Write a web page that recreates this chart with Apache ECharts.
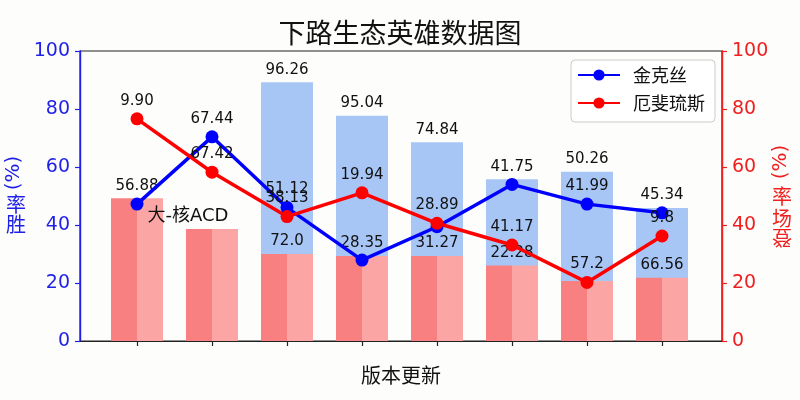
<!DOCTYPE html>
<html>
<head>
<meta charset="utf-8">
<script src="https://cdn.jsdelivr.net/npm/echarts@6/dist/echarts.min.js"></script>
<style>html,body{margin:0;padding:0;background:#fdfdfb;}#c{width:800px;height:400px;}</style>
</head>
<body>
<div id="c"></div>
<script>
// ---- data ----
const categories = ['1', '2', '3', '4', '5', '6', '7', '8'];      // version updates (no tick labels shown)
const blueBar   = [null, null, 89.2, 77.7, 68.5, 55.8, 58.4, 45.9]; // win-rate bars (hidden behind red for 1,2)
const redBar    = [49.2, 38.6, 30.0, 29.3, 29.3, 26.0, 20.7, 21.8]; // pick-rate bars
const jinx      = [47.2, 70.4, 46.0, 27.9, 39.4, 54.0, 47.2, 44.2]; // 金克丝
const aphelios  = [76.6, 58.2, 42.9, 51.1, 40.6, 33.1, 20.2, 36.2]; // 厄斐琉斯
const blueBarLabels = ['', '', '96.26', '95.04', '74.84', '41.75', '50.26', '45.34'];
const redBarLabels  = ['56.88', '', '72.0', '28.35', '31.27', '22.28', '', '66.56'];
const jinxLabels    = ['', '67.44', '51.12', '', '', '', '41.99', ''];
const aphLabels     = ['9.90', '67.42', '38.13', '19.94', '28.89', '41.17', '57.2', '9.8'];
const annotation    = '大-核ACD';

const FONT = 'DejaVu Sans, Noto Sans CJK SC, sans-serif';
const CJK = 'Noto Sans CJK SC, DejaVu Sans, sans-serif';
const pts = arr => arr.map((v, i) => [i, v]);
const lbl = (arr) => ({
  show: true, position: 'top', color: '#111', fontSize: 15, fontFamily: FONT,
  formatter: p => arr[p.dataIndex]
});

const chart = echarts.init(document.getElementById('c'));
const xBase = {
  type: 'value', min: -0.76, max: 7.8,
  splitLine: { show: false }
};
chart.setOption({
  backgroundColor: '#fdfdfb',
  animation: false,
  title: {
    text: '下路生态英雄数据图', left: 'center', top: 14,
    textStyle: { fontFamily: CJK, fontSize: 27, fontWeight: 'normal', color: '#111' }
  },
  legend: {
    data: ['金克丝', '厄斐琉斯'], orient: 'vertical', left: 571, top: 60,
    padding: [5, 10, 9, 6], itemGap: 8, itemWidth: 42, itemHeight: 14,
    backgroundColor: '#ffffff', borderColor: '#cccccc', borderWidth: 1, borderRadius: 4,
    textStyle: { fontFamily: CJK, fontSize: 18, color: '#111', lineHeight: 20, padding: [0, 0, 0, 8] }
  },
  grid: {
    left: 80, right: 78, top: 51, bottom: 59,
    show: true, borderColor: '#222', borderWidth: 1.2, backgroundColor: 'transparent'
  },
  xAxis: [
    Object.assign({}, xBase, {
      name: '版本更新', nameLocation: 'middle', nameGap: 24,
      nameTextStyle: { fontFamily: CJK, fontSize: 20, color: '#111' },
      axisLine: { show: true, onZero: false, lineStyle: { color: '#222', width: 1.2 } },
      axisTick: { show: true, length: 5, lineStyle: { color: '#222', width: 1.2 }, customValues: categories.map((c, i) => i) },
      axisLabel: { show: false }
    }),
    Object.assign({}, xBase, { show: false })
  ],
  yAxis: [
    {
      type: 'value', min: 0, max: 100, interval: 20, position: 'left',
      splitLine: { show: false },
      axisLine: { show: true, onZero: false, lineStyle: { color: '#1f1fe8', width: 1.4 } },
      axisTick: { show: true, length: 5, lineStyle: { color: '#1f1fe8', width: 1.2 } },
      axisLabel: { color: '#1f1fe8', fontSize: 19, fontFamily: FONT, margin: 10 }
    },
    {
      type: 'value', min: 0, max: 100, interval: 20, position: 'right',
      splitLine: { show: false },
      axisLine: { show: true, onZero: false, lineStyle: { color: '#f01f1f', width: 1.4 } },
      axisTick: { show: true, length: 5, lineStyle: { color: '#f01f1f', width: 1.2 } },
      axisLabel: { color: '#f01f1f', fontSize: 19, fontFamily: FONT, margin: 10 }
    }
  ],
  series: [
    {
      name: '胜率柱', type: 'bar', xAxisIndex: 1, yAxisIndex: 0, barWidth: 52,
      data: pts(blueBar), itemStyle: { color: '#a7c6f6' },
      label: Object.assign(lbl(blueBarLabels), { distance: 5 })
    },
    {
      name: '登场率A', type: 'bar', xAxisIndex: 0, yAxisIndex: 0, barWidth: 26, barGap: '0%',
      data: pts(redBar), itemStyle: { color: '#f88080' },
      label: Object.assign(lbl(redBarLabels), { distance: 5, offset: [13, 0] })
    },
    {
      name: '登场率B', type: 'bar', xAxisIndex: 0, yAxisIndex: 0, barWidth: 26, barGap: '0%',
      data: pts(redBar), itemStyle: { color: '#fca5a5' }
    },
    {
      name: '金克丝', type: 'line', xAxisIndex: 0, yAxisIndex: 0, data: pts(jinx),
      symbol: 'circle', symbolSize: 13,
      lineStyle: { color: '#0000ff', width: 3.5 }, itemStyle: { color: '#0000ff' },
      label: Object.assign(lbl(jinxLabels), { distance: 4 })
    },
    {
      name: '厄斐琉斯', type: 'line', xAxisIndex: 0, yAxisIndex: 1, data: pts(aphelios),
      symbol: 'circle', symbolSize: 13,
      lineStyle: { color: '#ff0000', width: 3.5 }, itemStyle: { color: '#ff0000' },
      label: Object.assign(lbl(aphLabels), { distance: 4 })
    }
  ]
});

// annotation near the 2nd group + axis names built of upright/rotated pieces
const ap = chart.convertToPixel({ xAxisIndex: 0, yAxisIndex: 0 }, [1, redBar[1]]);
chart.setOption({
  graphic: [
    { type: 'text', x: ap[0] - 24, y: ap[1] - 13, z: 50,
      style: { text: annotation, fontSize: 18, fontFamily: FONT, fill: '#111', align: 'center', verticalAlign: 'middle' } },
    { type: 'text', x: 14, y: 173, rotation: Math.PI / 2,
      style: { text: '(%)', fontSize: 20, fontFamily: FONT, fill: '#1f1fe8', align: 'center', verticalAlign: 'middle' } },
    { type: 'text', x: 16, y: 204,
      style: { text: '率', fontSize: 20, fontFamily: CJK, fill: '#1f1fe8', align: 'center', verticalAlign: 'middle' } },
    { type: 'text', x: 16, y: 224,
      style: { text: '胜', fontSize: 20, fontFamily: CJK, fill: '#1f1fe8', align: 'center', verticalAlign: 'middle' } },
    { type: 'text', x: 781, y: 162, rotation: Math.PI / 2,
      style: { text: '(%)', fontSize: 20, fontFamily: FONT, fill: '#f01f1f', align: 'center', verticalAlign: 'middle' } },
    { type: 'text', x: 782, y: 196,
      style: { text: '率', fontSize: 20, fontFamily: CJK, fill: '#f01f1f', align: 'center', verticalAlign: 'middle' } },
    { type: 'text', x: 782, y: 218,
      style: { text: '场', fontSize: 20, fontFamily: CJK, fill: '#f01f1f', align: 'center', verticalAlign: 'middle' } },
    { type: 'text', x: 782, y: 238, rotation: Math.PI,
      style: { text: '登', fontSize: 20, fontFamily: CJK, fill: '#f01f1f', align: 'center', verticalAlign: 'middle' } }
  ]
});
</script>
</body>
</html>
